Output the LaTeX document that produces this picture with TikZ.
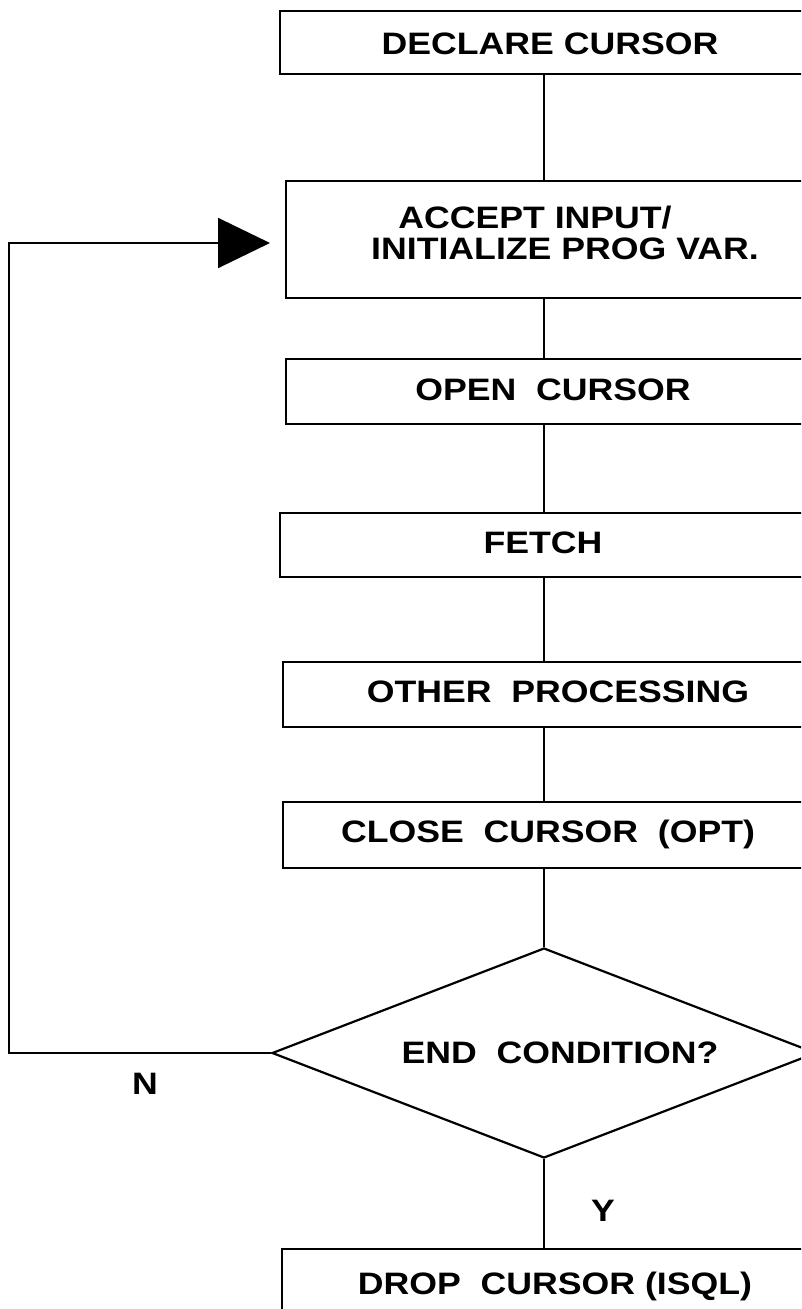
\documentclass[tikz,border=0pt]{standalone}
\usepackage{fontspec}
\setmainfont{Liberation Sans}
\usetikzlibrary{shapes.geometric,arrows.meta}
\newcommand{\wtxt}[1]{\scalebox{1.15}[1]{#1}}
\begin{document}
\begin{tikzpicture}[x=1pt,y=-1pt,
  box/.style={draw, line width=1.7pt, anchor=north west, inner sep=0pt,
    minimum width=560pt, minimum height=#1},
  lbl/.style={font=\bfseries\fontsize{31}{31}\selectfont, inner sep=0pt, anchor=base},
  link/.style={line width=1.4pt},
  loopline/.style={line width=2pt},
  decision/.style={draw, diamond, line width=2.2pt, inner sep=0pt,
    minimum width=544pt, minimum height=210pt}]
\useasboundingbox (0,0) rectangle (801,1309);
\clip (0,0) rectangle (801,1309);
% boxes
\node[box=63pt] (b1) at (279,10) {};
\node[box=117pt] (b2) at (285,180) {};
\node[box=65pt] (b3) at (285,358) {};
\node[box=64pt] (b4) at (279,512) {};
\node[box=65pt] (b5) at (282,661) {};
\node[box=66pt] (b6) at (282,801) {};
\node[decision] (dia) at (544,1053) {};
\node[box=90pt] (b7) at (281,1248) {};
% labels
\node[lbl] (t1) at (550,54) {\wtxt{DECLARE CURSOR}};
\node[lbl] (t2a) at (535,228) {\wtxt{ACCEPT INPUT/}};
\node[lbl] (t2b) at (565,259) {\wtxt{INITIALIZE PROG VAR.}};
\node[lbl] (t3) at (553,400) {\wtxt{OPEN~~CURSOR}};
\node[lbl] (t4) at (543,553) {\wtxt{FETCH}};
\node[lbl] (t5) at (558,702) {\wtxt{OTHER~~PROCESSING}};
\node[lbl] (t6) at (548,842) {\wtxt{CLOSE~~CURSOR~~(OPT)}};
\node[lbl] (t7) at (560,1063) {\wtxt{END~~CONDITION?}};
\node[lbl] (t8) at (555,1294) {\wtxt{DROP~~CURSOR (ISQL)}};
\node[lbl] (n) at (145,1094) {\wtxt{N}};
\node[lbl] (y) at (603,1221) {\wtxt{Y}};
% connectors
\coordinate (spine) at (544,0);
\coordinate (lc) at (9,1053);
\coordinate (tip) at (270,243);
\draw[link] (b1.south -| spine) -- (b2.north -| spine);
\draw[link] (b2.south -| spine) -- (b3.north -| spine);
\draw[link] (b3.south -| spine) -- (b4.north -| spine);
\draw[link] (b4.south -| spine) -- (b5.north -| spine);
\draw[link] (b5.south -| spine) -- (b6.north -| spine);
\draw[link] (b6.south -| spine) -- (dia.north);
\draw[link] (dia.south) -- (b7.north -| dia.south);
\draw[loopline, -{Triangle[length=52pt,width=50pt]}] (dia.west) -- (lc) |- (tip);
\end{tikzpicture}
\end{document}
